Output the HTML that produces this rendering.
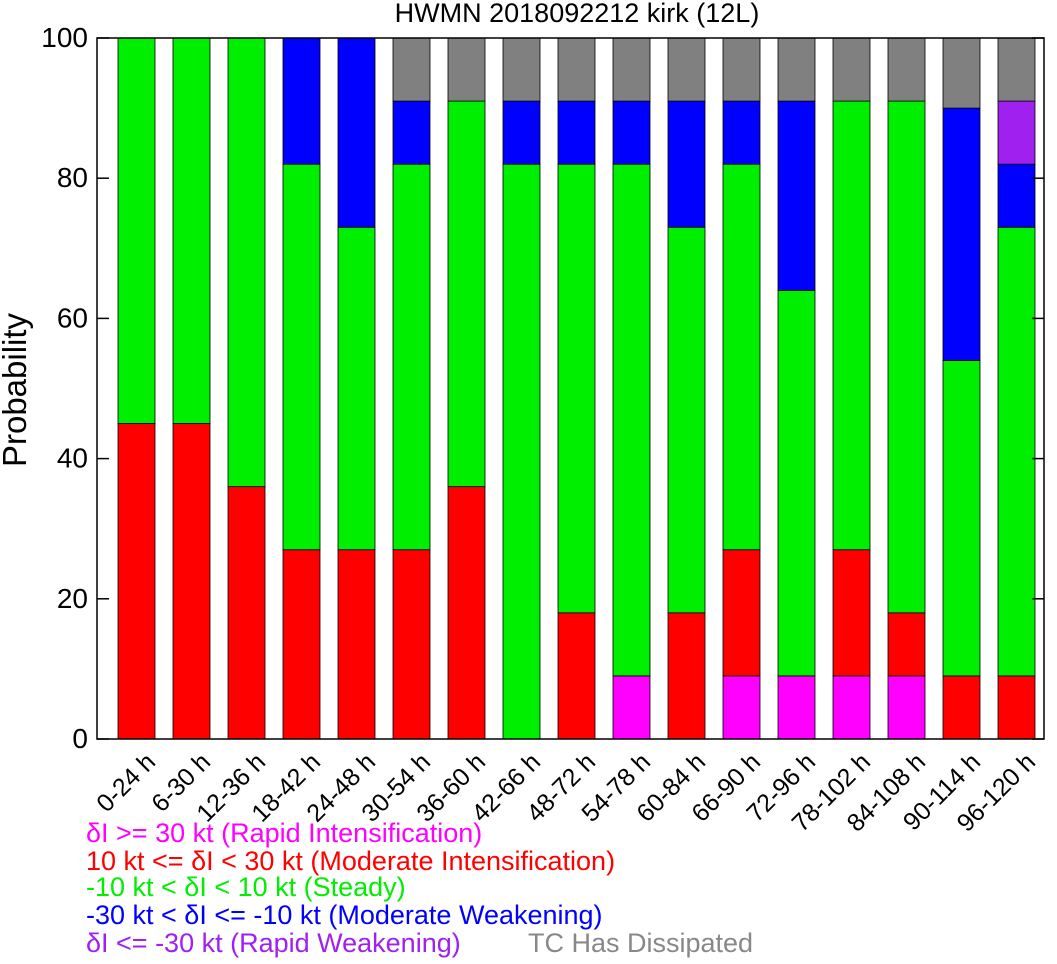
<!DOCTYPE html>
<html><head><meta charset="utf-8"><style>
body{margin:0;background:#fff;width:1057px;height:959px;overflow:hidden}
svg{font-family:"Liberation Sans",sans-serif}
</style></head><body>
<svg id="c" width="1057" height="959" xmlns="http://www.w3.org/2000/svg">
<text x="577" y="22" font-size="27" text-anchor="middle">HWMN 2018092212 kirk (12L)</text>
<text transform="translate(26,390) rotate(-90)" font-size="33" text-anchor="middle">Probability</text>
<g id="bars"></g><g id="axes"></g>
<g font-size="27">
<text x="86" y="842" fill="#ff00ff">δI &gt;= 30 kt (Rapid Intensification)</text>
<text x="86" y="870" fill="#ff0000">10 kt &lt;= δI &lt; 30 kt (Moderate Intensification)</text>
<text x="86" y="896" fill="#00ee00">-10 kt &lt; δI &lt; 10 kt (Steady)</text>
<text x="86" y="924" fill="#0000ff">-30 kt &lt; δI &lt;= -10 kt (Moderate Weakening)</text>
<text x="86" y="952" fill="#a020f0">δI &lt;= -30 kt (Rapid Weakening)</text>
<text x="528" y="952" fill="#888888">TC Has Dissipated</text>
</g>
</svg>
<script>
const categories=["0-24 h","6-30 h","12-36 h","18-42 h","24-48 h","30-54 h","36-60 h","42-66 h","48-72 h","54-78 h","60-84 h","66-90 h","72-96 h","78-102 h","84-108 h","90-114 h","96-120 h"];
const rapidInt=[0,0,0,0,0,0,0,0,0,9,0,9,9,9,9,0,0];
const moderateInt=[45,45,36,27,27,27,36,0,18,0,18,18,0,18,9,9,9];
const steady=[55,55,64,55,46,55,55,82,64,73,55,55,55,64,73,45,64];
const moderateWeak=[0,0,0,18,27,9,0,9,9,9,18,9,27,0,0,36,9];
const rapidWeak=[0,0,0,0,0,0,0,0,0,0,0,0,0,0,0,0,9];
const dissipated=[0,0,0,0,0,9,9,9,9,9,9,9,9,9,9,10,9];
const yTicks=[0,20,40,60,80,100];
const series=[["rapid-int",rapidInt,"#ff00ff"],["moderate-int",moderateInt,"#ff0000"],["steady",steady,"#00ee00"],["moderate-weak",moderateWeak,"#0000ff"],["rapid-weak",rapidWeak,"#a020f0"],["dissipated",dissipated,"#808080"]];
const L=97,R=1044,T=38,B=739;
const y=v=>B-(B-T)*v/100;
const x=i=>136.5+55*i;
const bw=37;
const NS="http://www.w3.org/2000/svg";
function mk(t,a,p){const e=document.createElementNS(NS,t);for(const k in a)e.setAttribute(k,a[k]);p.appendChild(e);return e;}
const bars=document.getElementById('bars'),axes=document.getElementById('axes');
categories.forEach((c,i)=>{let cum=0;
 series.forEach(([n,arr,col])=>{const v=arr[i];if(v>0){
  const r=mk('rect',{x:x(i)-bw/2,y:y(cum+v),width:bw,height:y(cum)-y(cum+v),fill:col,stroke:'#000','stroke-width':0.8},bars);
  
  }
  cum+=v;});
 const t=mk('text',{transform:`translate(${x(i)+8},${B+12}) rotate(-45)`,'text-anchor':'end','font-size':25,dy:'0.7em'},axes);
 t.textContent=c;
 
 
});
const f=mk('rect',{x:L,y:T,width:R-L,height:B-T,fill:'none',stroke:'#000','stroke-width':1.5},axes);


yTicks.forEach(v=>{
 mk('line',{x1:L,x2:L+12,y1:y(v),y2:y(v),stroke:'#000','stroke-width':1.5},axes);
 mk('line',{x1:R,x2:R-12,y1:y(v),y2:y(v),stroke:'#000','stroke-width':1.5},axes);
 const t=mk('text',{x:L-9,y:y(v)+9,'text-anchor':'end','font-size':28},axes);
 t.textContent=v;
 
 
});
</script>
</body></html>
